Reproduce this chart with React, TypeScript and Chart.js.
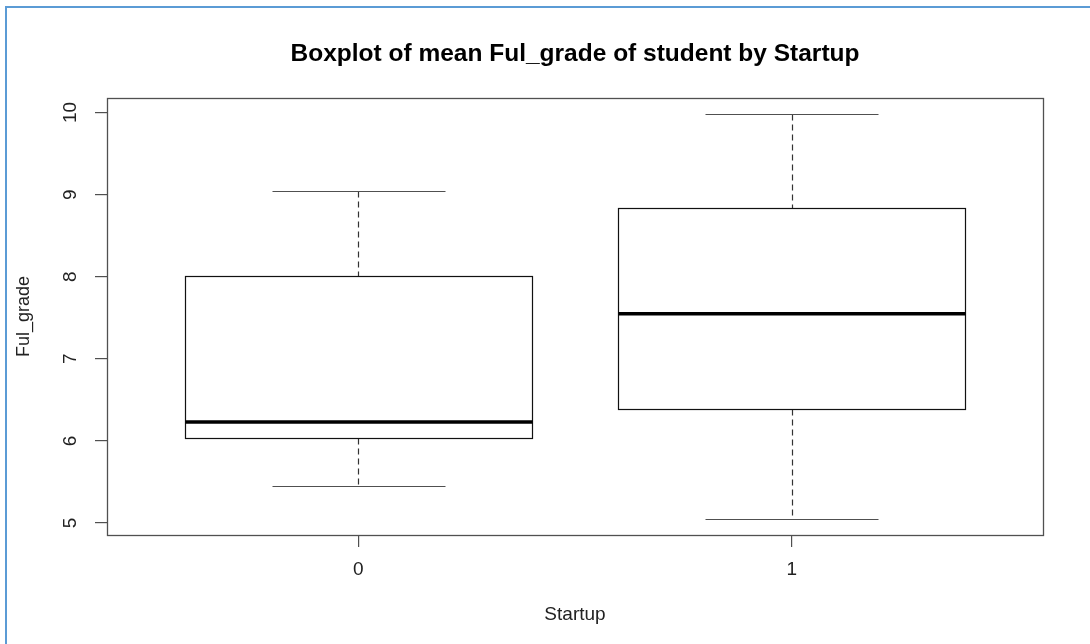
import React, { useEffect, useRef } from "react";
import { Chart, registerables } from "chart.js";

Chart.register(...registerables);

// Startup groups and five-number summaries of mean Ful_grade
const categories = ["0", "1"];
const whiskerLow = [5.45, 5.05];
const q1 = [6.03, 6.39];
const median = [6.23, 7.55];
const q3 = [8.01, 8.84];
const whiskerHigh = [9.04, 9.98];
const yTicks = [5, 6, 7, 8, 9, 10];

const FONT = "'Liberation Sans', Arial, Helvetica, sans-serif";
const AXIS_GREY = "#505050";

// y range padded by 4% of the data span on each side
const dataMin = Math.min(...whiskerLow);
const dataMax = Math.max(...whiskerHigh);
const pad = (dataMax - dataMin) * 0.04;

const boxplotPlugin = {
  id: "boxplotDraw",
  afterDatasetsDraw(chart: any) {
    const { ctx, scales } = chart;
    const xs = scales.x;
    const ys = scales.y;
    const crisp = (v: number) => Math.round(v) + 0.5;
    ctx.save();
    categories.forEach((_, i) => {
      const cx = crisp(xs.getPixelForValue(i));
      const bl = crisp(xs.getPixelForValue(i - 0.4));
      const br = crisp(xs.getPixelForValue(i + 0.4));
      const cl = crisp(xs.getPixelForValue(i - 0.2));
      const cr = crisp(xs.getPixelForValue(i + 0.2));
      const yLow = crisp(ys.getPixelForValue(whiskerLow[i]));
      const yHigh = crisp(ys.getPixelForValue(whiskerHigh[i]));
      const yQ1 = crisp(ys.getPixelForValue(q1[i]));
      const yQ3 = crisp(ys.getPixelForValue(q3[i]));
      const yMed = ys.getPixelForValue(median[i]);

      // dashed whiskers
      ctx.strokeStyle = "#333333";
      ctx.lineWidth = 1.2;
      ctx.setLineDash([6, 4]);
      ctx.beginPath();
      ctx.moveTo(cx, yHigh);
      ctx.lineTo(cx, yQ3);
      ctx.moveTo(cx, yQ1);
      ctx.lineTo(cx, yLow);
      ctx.stroke();
      ctx.setLineDash([]);

      // whisker caps
      ctx.strokeStyle = AXIS_GREY;
      ctx.lineWidth = 1.2;
      ctx.beginPath();
      ctx.moveTo(cl, yHigh);
      ctx.lineTo(cr, yHigh);
      ctx.moveTo(cl, yLow);
      ctx.lineTo(cr, yLow);
      ctx.stroke();

      // box
      ctx.fillStyle = "#ffffff";
      ctx.fillRect(bl, yQ3, br - bl, yQ1 - yQ3);
      ctx.strokeStyle = "#111111";
      ctx.lineWidth = 1.2;
      ctx.strokeRect(bl, yQ3, br - bl, yQ1 - yQ3);

      // median
      ctx.strokeStyle = "#000000";
      ctx.lineWidth = 3.5;
      ctx.beginPath();
      ctx.moveTo(bl, yMed);
      ctx.lineTo(br, yMed);
      ctx.stroke();
    });

    // plot frame
    const a = chart.chartArea;
    ctx.strokeStyle = AXIS_GREY;
    ctx.lineWidth = 1.3;
    ctx.strokeRect(
      Math.round(a.left) + 0.5,
      Math.round(a.top) + 0.5,
      Math.round(a.right - a.left),
      Math.round(a.bottom - a.top)
    );

    // rotated y tick labels
    ctx.fillStyle = "#222222";
    ctx.font = `19px ${FONT}`;
    ctx.textAlign = "center";
    ctx.textBaseline = "middle";
    yTicks.forEach((t) => {
      const y = ys.getPixelForValue(t);
      ctx.save();
      ctx.translate(71, y);
      ctx.rotate(-Math.PI / 2);
      ctx.fillText(String(t), 0, 0);
      ctx.restore();
    });
    ctx.restore();
  },
};

export default function App() {
  const canvasRef = useRef<HTMLCanvasElement>(null);

  useEffect(() => {
    if (!canvasRef.current) return;
    const chart = new Chart(canvasRef.current, {
      type: "scatter",
      data: {
        datasets: [
          {
            data: categories.map((_, i) => ({ x: i, y: median[i] })),
            pointRadius: 0,
            showLine: false,
          },
        ],
      },
      options: {
        animation: false,
        responsive: false,
        devicePixelRatio: 1,
        events: [],
        layout: { padding: { left: 0, right: 47, top: 0, bottom: 0 } },
        plugins: {
          legend: { display: false },
          tooltip: { enabled: false },
          title: {
            display: true,
            fullSize: false,
            text: "Boxplot of mean Ful_grade of student by Startup",
            color: "#000000",
            font: { family: FONT, size: 24.5, weight: "bold", lineHeight: 1.2 },
            padding: { top: 40, bottom: 28.6 },
          },
        },
        scales: {
          x: {
            type: "linear",
            position: "bottom",
            min: -0.58,
            max: 1.58,
            afterBuildTicks: (scale: any) => {
              scale.ticks = categories.map((_, i) => ({ value: i }));
            },
            afterFit: (scale: any) => {
              scale.height = 109;
            },
            ticks: {
              callback: (v: any) => categories[Number(v)] ?? "",
              color: "#222222",
              font: { family: FONT, size: 19 },
              padding: 11,
              maxRotation: 0,
              autoSkip: false,
            },
            grid: {
              display: true,
              drawOnChartArea: false,
              drawTicks: true,
              tickLength: 12,
              color: AXIS_GREY,
              lineWidth: 1.2,
            },
            border: { display: false },
            title: {
              display: true,
              text: "Startup",
              color: "#222222",
              font: { family: FONT, size: 19, lineHeight: 1.2 },
              padding: { top: 0, bottom: 18 },
            },
          },
          y: {
            type: "linear",
            position: "left",
            min: dataMin - pad,
            max: dataMax + pad,
            afterBuildTicks: (scale: any) => {
              scale.ticks = yTicks.map((v) => ({ value: v }));
            },
            afterFit: (scale: any) => {
              scale.width = 107;
            },
            ticks: { display: false },
            grid: {
              display: true,
              drawOnChartArea: false,
              drawTicks: true,
              tickLength: 12,
              color: AXIS_GREY,
              lineWidth: 1.2,
            },
            border: { display: false },
            title: {
              display: true,
              text: "Ful_grade",
              color: "#222222",
              font: { family: FONT, size: 18, lineHeight: 1.2 },
              padding: { top: 13, bottom: 0 },
            },
          },
        },
      },
      plugins: [boxplotPlugin],
    });
    return () => chart.destroy();
  }, []);

  return (
    <div
      style={{
        position: "absolute",
        left: 0,
        top: 0,
        width: 1090,
        height: 644,
        background: "#ffffff",
      }}
    >
      <canvas
        ref={canvasRef}
        width={1090}
        height={644}
        style={{ position: "absolute", left: 0, top: 0, width: 1090, height: 644 }}
      />
      <div
        style={{
          position: "absolute",
          left: 5,
          top: 6,
          right: 0,
          bottom: 0,
          borderLeft: "2px solid #5b9bd5",
          borderTop: "2px solid #5b9bd5",
          pointerEvents: "none",
        }}
      />
    </div>
  );
}
